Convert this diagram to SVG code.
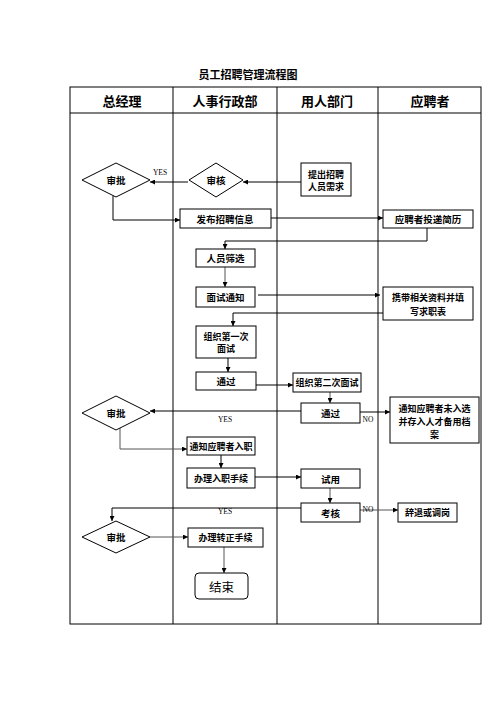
<svg xmlns="http://www.w3.org/2000/svg" width="496" height="702" viewBox="0 0 496 702">
<style>
.t{font-family:"Noto Sans CJK SC","Noto Sans",sans-serif;font-weight:bold;fill:#000;text-anchor:middle;dominant-baseline:central}
.s9{font-size:9px}
.s10{font-size:9.5px}
.h{font-size:13px}
.lbl{font-family:"Liberation Serif",serif;font-size:7.5px;fill:#000;text-anchor:middle;dominant-baseline:central}
.box{fill:#fff;stroke:#000;stroke-width:1}
.ln{fill:none;stroke:#000;stroke-width:1}
.c{fill:none;stroke:#000;stroke-width:1;marker-end:url(#ah)}
.cg{fill:none;stroke:#555;stroke-width:1;marker-end:url(#ah)}
</style>
<defs>
<marker id="ah" viewBox="0 0 6 6" refX="6" refY="3" markerWidth="6" markerHeight="5" markerUnits="userSpaceOnUse" orient="auto">
<path d="M0,0 L6,3 L0,6 z" fill="#000"/>
</marker>
</defs>
<rect width="496" height="702" fill="#fff"/>
<text class="t" x="248" y="74" font-size="11">员工招聘管理流程图</text>
<g id="table">
<rect class="ln" x="70" y="87" width="411" height="537"/>
<line class="ln" x1="70" y1="113" x2="481" y2="113"/>
<line class="ln" x1="173" y1="87" x2="173" y2="624"/>
<line class="ln" x1="277" y1="87" x2="277" y2="624"/>
<line class="ln" x1="378" y1="87" x2="378" y2="624"/>
<text class="t h" x="122" y="100">总经理</text>
<text class="t h" x="225" y="100">人事行政部</text>
<text class="t h" x="327" y="100">用人部门</text>
<text class="t h" x="430" y="100">应聘者</text>
</g>
<g id="connectors">
<line class="c" x1="301" y1="182" x2="243" y2="182"/>
<line class="c" x1="188" y1="182" x2="150" y2="182"/>
<polyline class="c" points="113,196 113,220 180,220"/>
<line class="c" x1="271" y1="218" x2="383" y2="218"/>
<polyline class="c" points="427,228 427,241 225,241 225,249"/>
<line class="cg" x1="225" y1="267" x2="225" y2="287"/>
<line class="c" x1="258" y1="295" x2="380" y2="295"/>
<polyline class="c" points="383,313 233,313 233,326"/>
<line class="c" x1="228" y1="358" x2="228" y2="372"/>
<line class="c" x1="256" y1="385" x2="293" y2="385"/>
<line class="cg" x1="330" y1="392" x2="330" y2="403"/>
<line class="c" x1="360" y1="412" x2="390" y2="412"/>
<line class="c" x1="301" y1="411" x2="150" y2="411"/>
<polyline class="cg" points="120,428 120,449 187,449"/>
<line class="c" x1="221" y1="455" x2="221" y2="468"/>
<line class="c" x1="255" y1="477" x2="301" y2="477"/>
<line class="cg" x1="330" y1="488" x2="330" y2="503"/>
<line class="cg" x1="360" y1="510" x2="398" y2="510"/>
<polyline class="c" points="301,508 112,508 112,521"/>
<line class="cg" x1="150" y1="537" x2="188" y2="537"/>
<line class="cg" x1="224" y1="547" x2="224" y2="573"/>
<text class="lbl" x="160" y="172">YES</text>
<text class="lbl" x="225" y="419">YES</text>
<text class="lbl" x="368" y="419">NO</text>
<text class="lbl" x="225" y="511">YES</text>
<text class="lbl" x="368" y="509">NO</text>
</g>
<g id="n_shenpi1"><polygon class="box" points="116,163 150,180 116,197 82,180"/><text class="t s10" x="116" y="180">审批</text></g>
<g id="n_shenhe"><polygon class="box" points="216,163 243,180 216,197 189,180"/><text class="t s10" x="216" y="180">审核</text></g>
<g id="n_tichu"><rect class="box" x="301" y="163" width="50" height="33"/><text class="t s9" x="326" y="174">提出招聘</text><text class="t s9" x="326" y="186">人员需求</text></g>
<g id="n_fabu"><rect class="box" x="180" y="209" width="91" height="19"/><text class="t s10" x="225" y="218.5">发布招聘信息</text></g>
<g id="n_toudi"><rect class="box" x="383" y="210" width="90" height="18"/><text class="t s10" x="428" y="219">应聘者投递简历</text></g>
<g id="n_shaixuan"><rect class="box" x="196" y="249" width="59" height="18"/><text class="t s10" x="225.5" y="258">人员筛选</text></g>
<g id="n_tongzhi"><rect class="box" x="196" y="287" width="59" height="20"/><text class="t s10" x="225.5" y="297">面试通知</text></g>
<g id="n_xiedai"><rect class="box" x="383" y="287" width="90" height="33"/><text class="t s9" x="428" y="297">携带相关资料并填</text><text class="t s9" x="428" y="311">写求职表</text></g>
<g id="n_mianshi1"><rect class="box" x="196" y="326" width="60" height="32"/><text class="t s9" x="226" y="336">组织第一次</text><text class="t s9" x="226" y="348">面试</text></g>
<g id="n_tongguo1"><rect class="box" x="196" y="372" width="60" height="18"/><text class="t s10" x="226" y="381">通过</text></g>
<g id="n_mianshi2"><rect class="box" x="293" y="373" width="68" height="19"/><text class="t s9" x="327" y="382.5">组织第二次面试</text></g>
<g id="n_tongguo2"><rect class="box" x="301" y="403" width="59" height="20"/><text class="t s10" x="330.5" y="413">通过</text></g>
<g id="n_weiruxuan"><rect class="box" x="390" y="397" width="89" height="46"/><text class="t s9" x="434.5" y="408">通知应聘者未入选</text><text class="t s9" x="434.5" y="421">并存入人才备用档</text><text class="t s9" x="434.5" y="434">案</text></g>
<g id="n_shenpi2"><polygon class="box" points="116,396 150,413 116,430 82,413"/><text class="t s10" x="116" y="413">审批</text></g>
<g id="n_ruzhi"><rect class="box" x="187" y="437" width="68" height="18"/><text class="t s9" x="221" y="446">通知应聘者入职</text></g>
<g id="n_banli"><rect class="box" x="187" y="468" width="68" height="20"/><text class="t s9" x="221" y="478">办理入职手续</text></g>
<g id="n_shiyong"><rect class="box" x="301" y="469" width="59" height="19"/><text class="t s10" x="330.5" y="478.5">试用</text></g>
<g id="n_kaohe"><rect class="box" x="301" y="503" width="59" height="19"/><text class="t s10" x="330.5" y="512.5">考核</text></g>
<g id="n_citui"><rect class="box" x="398" y="503" width="59" height="19"/><text class="t s9" x="427.5" y="512.5">辞退或调岗</text></g>
<g id="n_shenpi3"><polygon class="box" points="116,521 150,537 116,553 82,537"/><text class="t s10" x="116" y="537">审批</text></g>
<g id="n_zhuanzheng"><rect class="box" x="188" y="528" width="75" height="19"/><text class="t s9" x="225.5" y="537.5">办理转正手续</text></g>
<g id="n_end"><rect class="box" x="195" y="573" width="53" height="26" rx="4" ry="4"/><text class="t" x="221.5" y="586" font-size="12.5" style="font-weight:400">结束</text></g>
</svg>
